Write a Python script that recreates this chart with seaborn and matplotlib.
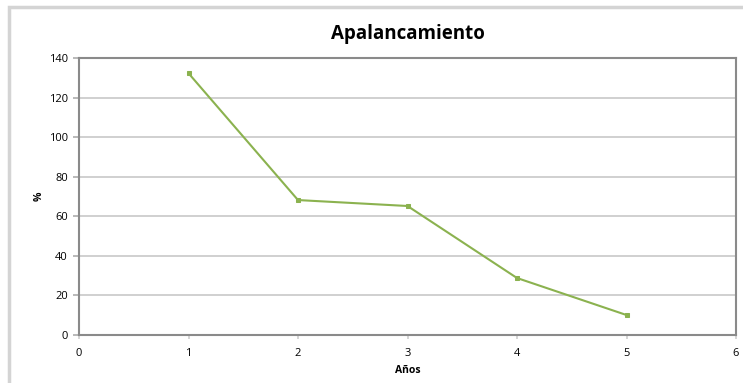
import matplotlib
matplotlib.use("Agg")
import matplotlib.pyplot as plt
import seaborn as sns
import pandas as pd
from matplotlib.patches import Rectangle

# Data
years = [1, 2, 3, 4, 5]
leverage = [132.3, 68.2, 65.2, 28.8, 10.1]
x_ticks = [0, 1, 2, 3, 4, 5, 6]
y_ticks = [0, 20, 40, 60, 80, 100, 120, 140]

df = pd.DataFrame({"Años": years, "%": leverage})

sns.set_theme(style="white")
plt.rcParams["font.family"] = ["Open Sans", "DejaVu Sans"]

fig = plt.figure(figsize=(7.43, 3.83), dpi=100)
ax = fig.add_axes([79 / 743, 1 - 335 / 383, (736 - 79) / 743, (335 - 58) / 383])

# light outer chart border (cut off at right and bottom like the screenshot)
fig.patches.append(Rectangle((9 / 743, -0.1), 1.0, 1 - 7 / 383 + 0.1,
                             transform=fig.transFigure, fill=False,
                             edgecolor="#d4d4d4", linewidth=2.5))

green = "#8bb24f"
sns.lineplot(data=df, x="Años", y="%", ax=ax, color=green, linewidth=1.5,
             marker="s", markersize=3.5, markeredgecolor=green)

ax.set_xlim(0, 6)
ax.set_ylim(0, 140)
ax.set_xticks(x_ticks)
ax.set_yticks(y_ticks)
ax.yaxis.grid(True, color="#c8c8c8", linewidth=1.2)
ax.xaxis.grid(False)

for side in ["top", "right", "left", "bottom"]:
    ax.spines[side].set_visible(True)
    ax.spines[side].set_color("#8a8a8a")
    ax.spines[side].set_linewidth(1.5)

ax.tick_params(axis="y", left=True, length=4, color="#b0b0b0", labelsize=8,
               pad=4, labelcolor="black")
ax.tick_params(axis="x", bottom=True, length=3, color="#d0d0d0", labelsize=8,
               pad=6, labelcolor="black")

ax.set_title("Apalancamiento", fontsize=13.5, fontweight="bold", pad=14, color="black")
ax.set_xlabel("Años", fontsize=7.5, fontweight="bold", labelpad=5, color="black")
ax.set_ylabel("%", fontsize=7.5, fontweight="bold", labelpad=3, color="black")

fig.savefig("out.png", dpi=100)
